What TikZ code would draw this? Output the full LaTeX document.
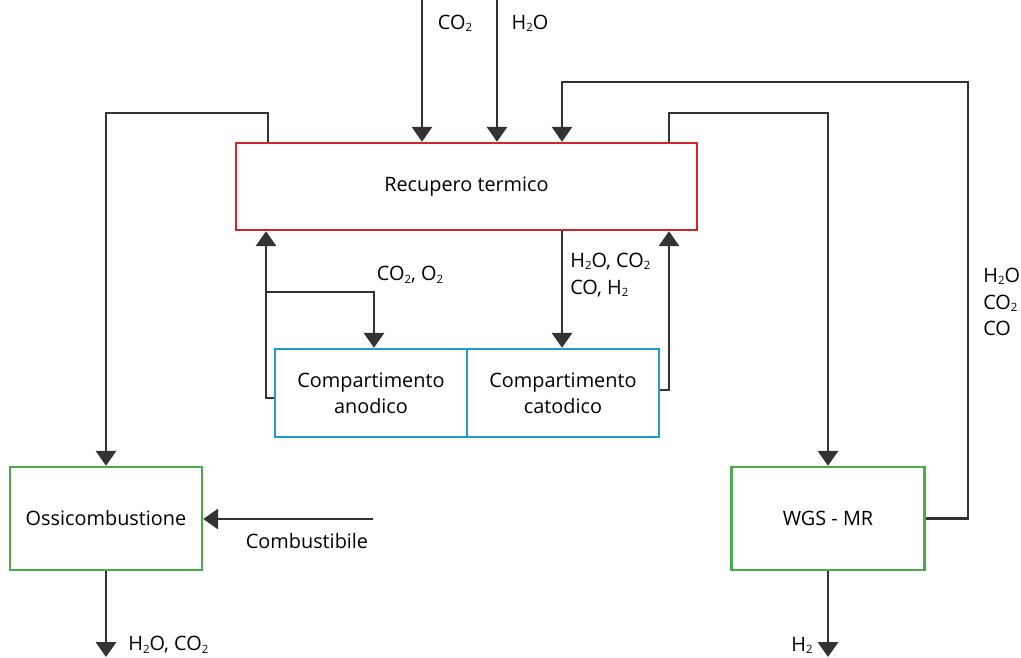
\documentclass[tikz,border=0pt]{standalone}
\usepackage{fontspec}
\setmainfont{Open Sans}
\usetikzlibrary{arrows.meta}
\usetikzlibrary{calc}

\definecolor{boxred}{HTML}{D0262F}
\definecolor{boxblue}{HTML}{1E9BD7}
\definecolor{boxgreen}{HTML}{4CAA4C}
\definecolor{linegray}{HTML}{333333}

\newcommand{\sub}[1]{\raisebox{-0.2ex}{\fontsize{6.5}{7}\selectfont #1}}

\tikzset{
    blk/.style={draw, line width=1.4pt, fill=white, align=center, inner sep=0pt},
    pipe/.style={draw=linegray, line width=1.4pt},
    flow/.style={pipe, -{Triangle[width=11.5pt,length=8.5pt]}},
    lbl/.style={text=black, inner sep=0pt},
}

\begin{document}
\begin{tikzpicture}[x=0.02cm,y=-0.02cm,font=\fontsize{11.3}{15}\selectfont]
    \useasboundingbox (0,0) rectangle (1021,657);

    % blocchi
    \node[blk, draw=boxred, minimum width=9.22cm, minimum height=1.74cm] (rec) at (466.5,186.5) {Recupero termico};
    \node[blk, draw=boxblue, minimum width=3.84cm, minimum height=1.76cm] (ano) at (371,393) {Compartimento\\anodico};
    \node[blk, draw=boxblue, minimum width=3.84cm, minimum height=1.76cm] (cat) at (563,393) {Compartimento\\catodico};
    \node[blk, draw=boxgreen, minimum width=3.84cm, minimum height=2.06cm] (oss) at (106,518.5) {Ossicombustione};
    \node[blk, draw=boxgreen, minimum width=3.86cm, minimum height=2.06cm] (wgs) at (828,518.5) {WGS - MR};

    % ingressi dall'alto
    \coordinate (co2in) at (422,0);
    \coordinate (h2oin) at (497,0);
    \draw[flow] (co2in) -- (co2in |- rec.north);
    \draw[flow] (h2oin) -- (h2oin |- rec.north);
    \node[lbl] (co2lbl) at (455,23) {CO\sub{2}};
    \node[lbl] (h2olbl) at (530,23) {H\sub{2}O};

    % verso ossicombustione
    \coordinate (l1) at (268,113);
    \coordinate (l2) at (106,113);
    \draw[flow] (l1 |- rec.north) -- (l1) -- (l2) -- (oss.north);

    % verso WGS
    \coordinate (r1) at (669,113);
    \coordinate (r2) at (828,113);
    \draw[flow] (r1 |- rec.north) -- (r1) -- (r2) -- (wgs.north);

    % ricircolo da WGS
    \coordinate (t1) at (968,82);
    \coordinate (t2) at (562,82);
    \draw[flow] (wgs.east) -| (t1) -- (t2) -- (t2 |- rec.north);
    \node[lbl, anchor=west, align=left] (riclbl) at (983,302) {H\sub{2}O\\CO\sub{2}\\CO};

    % lato anodico
    \coordinate (a1) at (266,398);
    \coordinate (a2) at (266,292);
    \coordinate (a3) at (374,292);
    \draw[flow] (a1 -| ano.west) -- (a1) -- (a1 |- rec.south);
    \draw[flow] (a2) -- (a3) -- (a3 |- ano.north);
    \node[lbl] (anolbl) at (410,275) {CO\sub{2}, O\sub{2}};

    % lato catodico
    \coordinate (c1) at (562,0);
    \coordinate (c2) at (669,390);
    \draw[flow] (c1 |- rec.south) -- (c1 |- cat.north);
    \draw[flow] (c2 -| cat.east) -- (c2) -- (c2 |- rec.south);
    \node[lbl, anchor=west, align=left] (catlbl) at (570,275) {H\sub{2}O, CO\sub{2}\\CO, H\sub{2}};

    % combustibile e uscite
    \coordinate (f1) at (373,519);
    \draw[flow] (f1) -- (f1 -| oss.east);
    \node[lbl] (fuellbl) at (307,541) {Combustibile};

    \coordinate (o1) at (106,657);
    \draw[flow] (oss.south) -- (o1);
    \node[lbl, anchor=west] (osslbl) at (128,645) {H\sub{2}O, CO\sub{2}};

    \coordinate (w1) at (828,657);
    \draw[flow] (wgs.south) -- (w1);
    \node[lbl, anchor=east] (h2lbl) at (813,645) {H\sub{2}};
\end{tikzpicture}
\end{document}
